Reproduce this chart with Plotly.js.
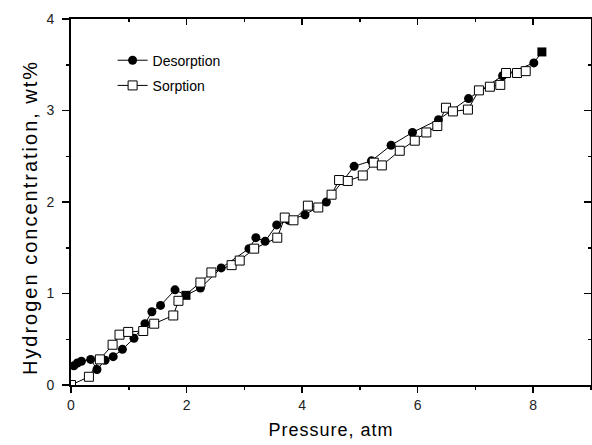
<!DOCTYPE html>
<html>
<head>
<meta charset="utf-8">
<script src="https://cdn.plot.ly/plotly-3.0.1.min.js"></script>
<style>
html,body{margin:0;padding:0;background:#fff;}
#chart{width:592px;height:445px;}
#chart .xtitle{letter-spacing:1px;}
#chart .annotation-text{letter-spacing:2px;}
</style>
</head>
<body>
<div id="chart"></div>
<script>
// Desorption (filled circles; two end points drawn as filled squares)
const desPressure = [0.05, 0.11, 0.18, 0.34, 0.45, 0.59, 0.73, 0.89, 1.09, 1.28, 1.40, 1.55, 1.80, 1.99, 2.24, 2.60, 3.08, 3.20, 3.36, 3.56, 3.77, 4.05, 4.42, 4.90, 5.20, 5.54, 5.91, 6.36, 6.88, 7.47, 8.01, 8.15];
const desConc     = [0.21, 0.24, 0.26, 0.28, 0.17, 0.27, 0.31, 0.39, 0.51, 0.67, 0.80, 0.87, 1.04, 0.98, 1.06, 1.28, 1.49, 1.61, 1.57, 1.75, 1.80, 1.86, 2.00, 2.39, 2.45, 2.62, 2.76, 2.90, 3.13, 3.38, 3.52, 3.64];
// Sorption (open squares)
const sorPressure = [0.00, 0.31, 0.50, 0.72, 0.84, 0.99, 1.25, 1.44, 1.77, 1.86, 2.24, 2.43, 2.78, 2.92, 3.17, 3.57, 3.70, 3.85, 4.10, 4.28, 4.51, 4.64, 4.79, 5.05, 5.24, 5.38, 5.69, 5.95, 6.15, 6.34, 6.49, 6.61, 6.87, 7.06, 7.25, 7.43, 7.53, 7.72, 7.87];
const sorConc     = [0.00, 0.09, 0.28, 0.44, 0.55, 0.58, 0.59, 0.67, 0.76, 0.92, 1.12, 1.23, 1.31, 1.36, 1.49, 1.61, 1.83, 1.80, 1.96, 1.94, 2.08, 2.24, 2.23, 2.29, 2.43, 2.40, 2.56, 2.67, 2.76, 2.83, 3.03, 2.99, 3.01, 3.22, 3.26, 3.28, 3.41, 3.41, 3.43];
const seriesNames = ["Desorption", "Sorption"];
const xTitle = "Pressure, atm";
const yTitle = "Hydrogen concentration, wt%";

const desSymbols = desPressure.map((p, i) => (i === 13 || i === desPressure.length - 1) ? "square" : "circle");

const traces = [
  {
    x: desPressure, y: desConc, name: seriesNames[0], type: "scatter", mode: "lines+markers",
    line: {color: "#000", width: 1},
    marker: {symbol: desSymbols, size: 9, color: "#000", line: {color: "#000", width: 0}},
    legendgroup: "a", cliponaxis: false
  },
  {
    x: sorPressure, y: sorConc, name: seriesNames[1], type: "scatter", mode: "lines+markers",
    line: {color: "#000", width: 1},
    marker: {symbol: "square", size: 9, color: "#fff", line: {color: "#000", width: 1}},
    legendgroup: "b", cliponaxis: true
  },
  {x: [], y: [], xaxis: "x2", yaxis: "y2", showlegend: false, hoverinfo: "skip", type: "scatter"}
];

const fontFam = "Liberation Sans, Arial, sans-serif";
const tickFont = {family: fontFam, size: 14, color: "#222"};

const layout = {
  width: 592, height: 445,
  margin: {l: 71, r: 1, t: 19, b: 60},
  paper_bgcolor: "#fff", plot_bgcolor: "#fff",
  showlegend: true,
  legend: {
    x: 0.08, y: 0.93, xanchor: "left", yanchor: "top",
    bgcolor: "rgba(0,0,0,0)", borderwidth: 0,
    font: {family: fontFam, size: 14, color: "#000"},
    traceorder: "grouped", tracegroupgap: 4
  },
  annotations: [{
    text: yTitle, textangle: -90, showarrow: false,
    xref: "paper", yref: "paper", x: 0, y: 0.456, xanchor: "center", yanchor: "middle",
    xshift: -41,
    font: {family: fontFam, size: 20, color: "#000"}
  }],
  xaxis: {
    range: [0, 9], dtick: 2, tick0: 0,
    ticks: "outside", ticklen: 6, tickwidth: 1.5, tickcolor: "#000",
    minor: {dtick: 1, ticks: "outside", ticklen: 3, tickwidth: 1.5, tickcolor: "#000"},
    showline: true, linecolor: "#000", linewidth: 2,
    showgrid: false, zeroline: false,
    tickfont: tickFont,
    title: {text: xTitle, font: {family: fontFam, size: 18, color: "#000"}, standoff: 12}
  },
  xaxis2: {
    overlaying: "x", side: "top", anchor: "y", matches: "x", range: [0, 9], dtick: 2, tick0: 0,
    ticks: "inside", ticklen: 6, tickwidth: 1.5, tickcolor: "#000",
    minor: {dtick: 1, ticks: "inside", ticklen: 3, tickwidth: 1.5, tickcolor: "#000"},
    showline: true, linecolor: "#000", linewidth: 2,
    showgrid: false, zeroline: false, showticklabels: false
  },
  yaxis: {
    range: [0, 4], dtick: 1, tick0: 0,
    ticks: "outside", ticklen: 7, tickwidth: 1.5, tickcolor: "#000",
    minor: {dtick: 0.5, ticks: "outside", ticklen: 3, tickwidth: 1.5, tickcolor: "#000"},
    showline: true, linecolor: "#000", linewidth: 2,
    showgrid: false, zeroline: false,
    tickfont: tickFont, ticklabelstandoff: 5
  },
  yaxis2: {
    overlaying: "y", side: "right", anchor: "x", range: [0, 4], dtick: 1, tick0: 0,
    ticks: "inside", ticklen: 7, tickwidth: 1.5, tickcolor: "#000",
    minor: {dtick: 0.5, ticks: "inside", ticklen: 3, tickwidth: 1.5, tickcolor: "#000"},
    showline: true, linecolor: "#000", linewidth: 2,
    showgrid: false, zeroline: false, showticklabels: false
  }
};

Plotly.newPlot("chart", traces, layout, {displayModeBar: false, staticPlot: true});
</script>
</body>
</html>
